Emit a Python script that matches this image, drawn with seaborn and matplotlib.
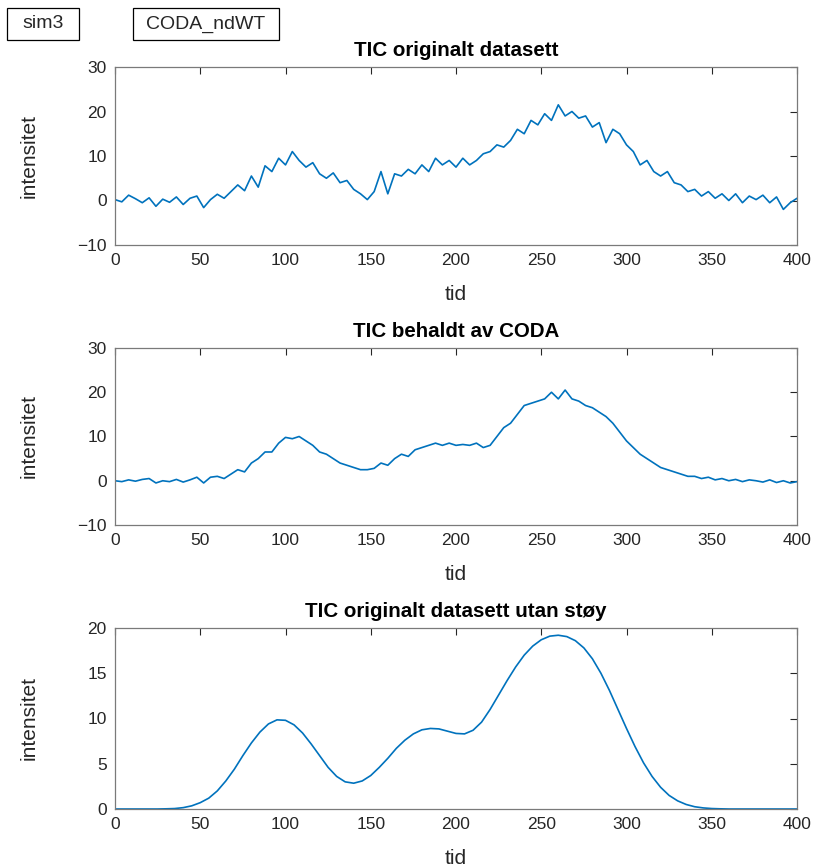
import numpy as np
import pandas as pd
import matplotlib
matplotlib.use("Agg")
import matplotlib.pyplot as plt
from matplotlib.patches import Rectangle
import seaborn as sns

# TIC originalt datasett (lest av figuren, hvert 4. tidssteg)
tid_stoy = list(range(0, 401, 4))
tic_original = [
    0.2, -0.3, 1.2, 0.4, -0.5, 0.6, -1.3, 0.3, -0.4, 0.8,
    -0.9, 0.5, 1.0, -1.6, 0.2, 1.4, 0.5, 2.0, 3.5, 2.2,
    5.5, 3.0, 7.8, 6.5, 9.5, 8.0, 11.0, 9.0, 7.5, 8.5,
    6.0, 5.0, 6.2, 4.0, 4.5, 2.5, 1.5, 0.2, 2.0, 6.5,
    1.5, 6.0, 5.5, 7.0, 6.0, 8.0, 6.5, 9.5, 8.0, 9.0,
    7.5, 9.5, 8.0, 9.0, 10.5, 11.0, 12.5, 12.0, 13.5, 16.0,
    15.0, 18.0, 17.0, 19.5, 18.0, 21.5, 19.0, 20.0, 18.5, 19.0,
    16.5, 17.5, 13.0, 16.0, 15.0, 12.5, 11.0, 8.0, 9.0, 6.5,
    5.5, 6.5, 4.0, 3.5, 2.0, 2.5, 1.0, 2.0, 0.5, 1.5,
    0.0, 1.5, -0.5, 1.0, 0.2, 1.2, -0.5, 0.8, -2.0, -0.5,
    0.5,
]

# TIC behaldt av CODA
tic_coda = [
    0.0, -0.2, 0.2, -0.1, 0.3, 0.5, -0.5, 0.0, -0.2, 0.3,
    -0.3, 0.2, 0.8, -0.5, 0.8, 1.0, 0.5, 1.5, 2.5, 2.0,
    4.0, 5.0, 6.5, 6.5, 8.5, 9.8, 9.5, 10.0, 9.0, 8.0,
    6.5, 6.0, 5.0, 4.0, 3.5, 3.0, 2.5, 2.5, 2.8, 4.0,
    3.5, 5.0, 6.0, 5.5, 7.0, 7.5, 8.0, 8.5, 8.0, 8.5,
    8.0, 8.2, 8.0, 8.5, 7.5, 8.0, 10.0, 12.0, 13.0, 15.0,
    17.0, 17.5, 18.0, 18.5, 20.0, 18.5, 20.5, 18.5, 18.0, 17.0,
    16.5, 15.5, 14.5, 13.0, 11.0, 9.0, 7.5, 6.0, 5.0, 4.0,
    3.0, 2.5, 2.0, 1.5, 1.0, 1.0, 0.5, 0.8, 0.2, 0.5,
    0.0, 0.3, -0.2, 0.2, 0.0, -0.3, 0.2, -0.4, 0.0, -0.5,
    -0.2,
]

# TIC originalt datasett utan støy (hvert 5. tidssteg)
tid_glatt = list(range(0, 401, 5))
tic_glatt = [
    0, 0, 0, 0, 0, 0, 0.02, 0.05, 0.15, 0.35,
    0.7, 1.2, 2.0, 3.1, 4.4, 5.9, 7.3, 8.5, 9.4, 9.85,
    9.8, 9.3, 8.4, 7.2, 5.9, 4.6, 3.6, 3.0, 2.85, 3.1,
    3.7, 4.6, 5.6, 6.7, 7.6, 8.3, 8.75, 8.9, 8.85, 8.6,
    8.35, 8.3, 8.7, 9.6, 11.0, 12.6, 14.2, 15.7, 17.0, 18.0,
    18.7, 19.1, 19.2, 19.05, 18.6, 17.8, 16.6, 15.0, 13.1, 11.0,
    8.9, 6.9, 5.1, 3.6, 2.4, 1.5, 0.9, 0.5, 0.25, 0.12,
    0.05, 0.02, 0, 0, 0, 0, 0, 0, 0, 0,
    0,
]

sns.set_style("white")
plt.rcParams["font.family"] = ["Liberation Sans", "DejaVu Sans"]

W, H = 815, 867
fig = plt.figure(figsize=(W / 100, H / 100), dpi=100)
farge = "#0072BD"

# (tittel, x, y, [venstre, topp, høgre, botn] i pikslar, ylim, yticks)
paneler = [
    ("TIC originalt datasett", tid_stoy, tic_original, (115, 67, 797, 245), (-10, 30), [-10, 0, 10, 20, 30]),
    ("TIC behaldt av CODA", tid_stoy, tic_coda, (115, 348, 797, 525), (-10, 30), [-10, 0, 10, 20, 30]),
    ("TIC originalt datasett utan støy", tid_glatt, tic_glatt, (115, 628, 797, 809), (0, 20), [0, 5, 10, 15, 20]),
]

for tittel, x, y, (l, t, r, b), ylim, yticks in paneler:
    ax = fig.add_axes([l / W, 1 - b / H, (r - l) / W, (b - t) / H])
    df = pd.DataFrame({"tid": x, "intensitet": y})
    sns.lineplot(data=df, x="tid", y="intensitet", ax=ax, color=farge, linewidth=1.2)
    ax.set_xlim(0, 400)
    ax.set_ylim(*ylim)
    ax.set_xticks(range(0, 401, 50))
    ax.set_yticks(yticks)
    ax.tick_params(direction="in", top=True, right=True, length=5, width=0.8,
                   color="#262626", labelsize=12.5, labelcolor="#262626")
    ax.tick_params(axis="x", pad=6)
    ax.tick_params(axis="y", pad=6)
    for s in ax.spines.values():
        s.set_color("#7a7a7a")
        s.set_linewidth(0.9)
    ax.set_title(tittel, fontsize=14.8, fontweight="bold", color="black", pad=8)
    ax.set_xlabel("tid", fontsize=15, color="#262626")
    ax.set_ylabel("intensitet", fontsize=15, color="#262626")
    hoyde = b - t
    ax.xaxis.set_label_coords(0.5, -40 / hoyde)
    ax.yaxis.set_label_coords(-76 / (r - l), 0.5)

# tekstboksar oppe til venstre
for tekst, (x0, x1) in [("sim3", (7, 79)), ("CODA_ndWT", (133, 279))]:
    fig.patches.append(Rectangle((x0 / W, 1 - 40 / H), (x1 - x0) / W, 32 / H,
                                 transform=fig.transFigure, fill=False,
                                 ec="black", lw=0.9))
    fig.text((x0 + x1) / 2 / W, 1 - 24 / H, tekst, fontsize=14, ha="center",
             va="center", color="#262626")

plt.savefig("out.png", dpi=100)
